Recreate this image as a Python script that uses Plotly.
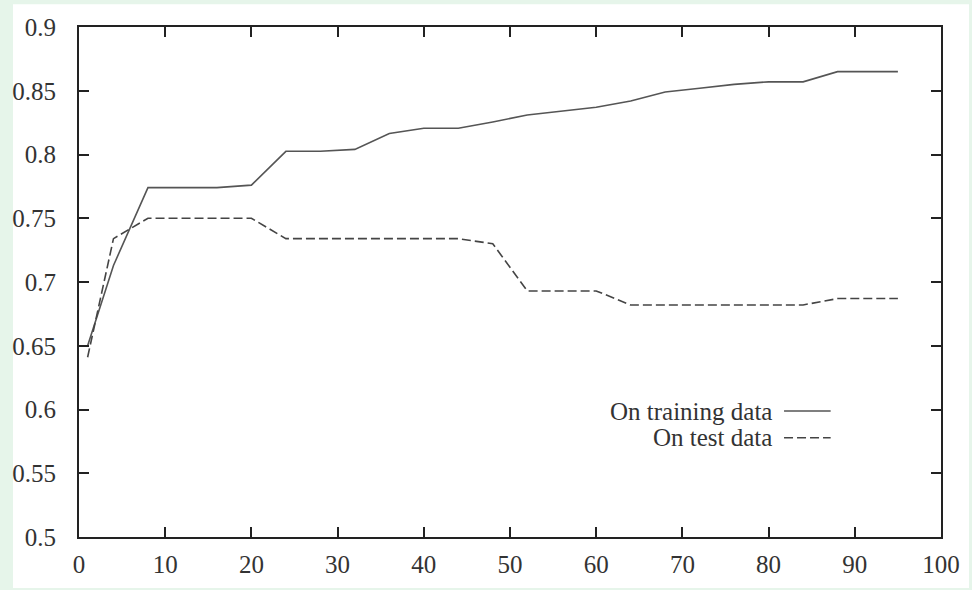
import plotly.graph_objects as go

# ---- data ----
train_x = [1, 4, 8, 12, 16, 20, 24, 28, 32, 36, 40, 44, 48, 52, 56, 60, 64, 68, 72, 76, 80, 84, 88, 92, 95]
train_y = [0.650, 0.713, 0.774, 0.774, 0.774, 0.776, 0.8025, 0.8025, 0.804, 0.8165, 0.8206, 0.8206,
           0.8255, 0.831, 0.834, 0.837, 0.842, 0.849, 0.852, 0.855, 0.857, 0.857, 0.865, 0.865, 0.865]

test_x = [1, 4, 8, 12, 16, 20, 24, 28, 32, 36, 40, 44, 48, 52, 56, 60, 64, 68, 72, 76, 80, 84, 88, 92, 95]
test_y = [0.641, 0.734, 0.750, 0.750, 0.750, 0.750, 0.734, 0.734, 0.734, 0.734, 0.734, 0.734,
          0.730, 0.693, 0.693, 0.693, 0.682, 0.682, 0.682, 0.682, 0.682, 0.682, 0.687, 0.687, 0.687]

series_names = ["On training data", "On test data"]

x_ticks = [0, 10, 20, 30, 40, 50, 60, 70, 80, 90, 100]
y_ticks = [0.5, 0.55, 0.6, 0.65, 0.7, 0.75, 0.8, 0.85, 0.9]
y_tick_text = ["0.5", "0.55", "0.6", "0.65", "0.7", "0.75", "0.8", "0.85", "0.9"]

FONT = "Liberation Serif"
TXT = "#333333"
DASH = "9px,4px"

fig = go.Figure()
fig.add_trace(go.Scatter(x=train_x, y=train_y, mode="lines", name=series_names[0],
                         line=dict(color="#555555", width=1.6)))
fig.add_trace(go.Scatter(x=test_x, y=test_y, mode="lines", name=series_names[1],
                         line=dict(color="#444444", width=1.6, dash=DASH)))

axis_common = dict(showgrid=False, zeroline=False, showline=True, linecolor="#222222", linewidth=2,
                   mirror="ticks", ticks="inside", ticklen=10, tickwidth=2, tickcolor="#222222",
                   tickfont=dict(family=FONT, size=25, color=TXT))

fig.update_xaxes(range=[0, 100], tickvals=x_ticks, ticklabelstandoff=4, **axis_common)
fig.update_yaxes(range=[0.5, 0.9], tickvals=y_ticks, ticktext=y_tick_text, ticklabelstandoff=16,
                 **axis_common)

# white page area over the pale green surround
shapes = [
    dict(type="rect", xref="paper", yref="paper", x0=-0.0766, x1=1.0325, y0=-0.1, y1=1.0447,
         fillcolor="white", line=dict(width=0), layer="below"),
]
# legend keys (right-aligned text with line sample to the right, gnuplot style)
leg_y = [0.247, 0.1946]
leg_dash = ["solid", DASH]
leg_col = ["#555555", "#444444"]
annotations = []
for name, yy, d, c in zip(series_names, leg_y, leg_dash, leg_col):
    annotations.append(dict(xref="paper", yref="paper", x=0.806, y=yy, text=name, showarrow=False,
                            xanchor="right", yanchor="middle",
                            font=dict(family=FONT, size=25, color=TXT)))
    shapes.append(dict(type="line", xref="paper", yref="paper", x0=0.8179, x1=0.872, y0=yy, y1=yy,
                       line=dict(color=c, width=1.6, dash=d)))

fig.update_layout(
    width=972, height=590,
    margin=dict(l=79, r=31, t=27, b=49),
    paper_bgcolor="#e6f5ea",
    plot_bgcolor="white",
    showlegend=False,
    shapes=shapes,
    annotations=annotations,
)

fig.write_html("out.html")
